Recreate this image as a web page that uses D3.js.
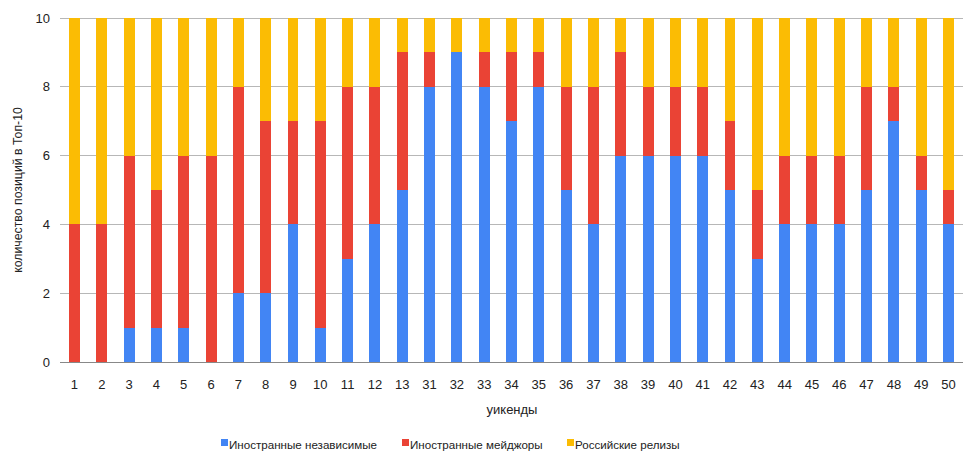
<!DOCTYPE html>
<html><head><meta charset="utf-8">
<script src="https://cdn.jsdelivr.net/npm/d3@7/dist/d3.min.js"></script>
<style>body{margin:0;background:#fff;}svg{display:block;font-family:"Liberation Sans",Arial,sans-serif;}</style>
</head><body>
<svg id="c" width="974" height="459"></svg>
<script>
const categories = ["1","2","3","4","5","6","7","8","9","10","11","12","13","31","32","33","34","35","36","37","38","39","40","41","42","43","44","45","46","47","48","49","50"];
const independents = [0,0,1,1,1,0,2,2,4,1,3,4,5,8,9,8,7,8,5,4,6,6,6,6,5,3,4,4,4,5,7,5,4];
const majors =       [4,4,5,4,5,6,6,5,3,6,5,4,4,1,0,1,2,1,3,4,3,2,2,2,2,2,2,2,2,3,1,1,1];
const russian =      [6,6,4,5,4,4,2,3,3,3,2,2,1,1,1,1,1,1,2,2,1,2,2,2,3,5,4,4,4,2,2,4,5];
const seriesNames = ["Иностранные независимые","Иностранные мейджоры","Российские релизы"];
const colors = ["#4285f4","#ea4335","#fbbc04"];
const yTicks = [0,2,4,6,8,10];

const svg = d3.select("#c");
const m = {l:60, r:11, t:18, b:97};
const W = 974, H = 459;
const x = d3.scaleBand().domain(categories).range([m.l, W-m.r]).paddingInner(0.6).paddingOuter(0.33);
const y = d3.scaleLinear().domain([0,10]).range([H-m.b, m.t]);

const rows = categories.map((c,i)=>({cat:c, a:independents[i], b:majors[i], c:russian[i]}));
const stack = d3.stack().keys(["a","b","c"])(rows);

// grid
svg.append("g").selectAll("line").data(yTicks.filter(d=>d>0)).join("line")
  .attr("x1",m.l).attr("x2",W-m.r).attr("y1",d=>y(d)).attr("y2",d=>y(d))
  .attr("stroke","#b7b7b7").attr("stroke-width",1).attr("shape-rendering","crispEdges");

// bars
svg.append("g").selectAll("g").data(stack).join("g").attr("fill",(d,i)=>colors[i])
  .selectAll("rect").data(d=>d).join("rect")
  .attr("x",d=>x(d.data.cat)).attr("width",x.bandwidth())
  .attr("y",d=>y(d[1])).attr("height",d=>y(d[0])-y(d[1]))
  .attr("shape-rendering","crispEdges");

// baseline
svg.append("line").attr("x1",m.l).attr("x2",W-m.r).attr("y1",y(0)).attr("y2",y(0))
  .attr("stroke","#888").attr("shape-rendering","crispEdges");

// y axis
const ya = svg.append("g").attr("transform",`translate(${m.l},0)`)
  .call(d3.axisLeft(y).tickValues(yTicks).tickSize(0).tickPadding(10).tickFormat(d3.format("d")));
ya.select(".domain").remove();
ya.selectAll("text").attr("font-size",13).attr("fill","#222").attr("font-family","Liberation Sans, Arial, sans-serif");

// x axis
const xa = svg.append("g").attr("transform",`translate(0,${y(0)})`)
  .call(d3.axisBottom(x).tickSize(0).tickPadding(18));
xa.select(".domain").remove();
xa.selectAll("text").attr("font-size",13).attr("fill","#222").attr("font-family","Liberation Sans, Arial, sans-serif");

// axis titles
svg.append("text").attr("x",512).attr("y",414).attr("text-anchor","middle")
  .attr("font-size",13).attr("fill","#222").text("уикенды");
svg.append("text").attr("transform",`translate(22,${(m.t+H-m.b)/2}) rotate(-90)`).attr("text-anchor","middle")
  .attr("font-size",12.3).attr("fill","#222").text("количество позиций в Топ-10");

// legend
const legX = [221, 402, 567];
const lg = svg.append("g").selectAll("g").data(seriesNames).join("g")
  .attr("transform",(d,i)=>`translate(${legX[i]},445)`);
lg.append("rect").attr("x",0).attr("y",-6).attr("width",7).attr("height",7).attr("fill",(d,i)=>colors[i]);
lg.append("text").attr("x",8).attr("y",0).attr("dy","0.35em").attr("font-size",11.6).attr("fill","#222").text(d=>d);
</script>
</body></html>
